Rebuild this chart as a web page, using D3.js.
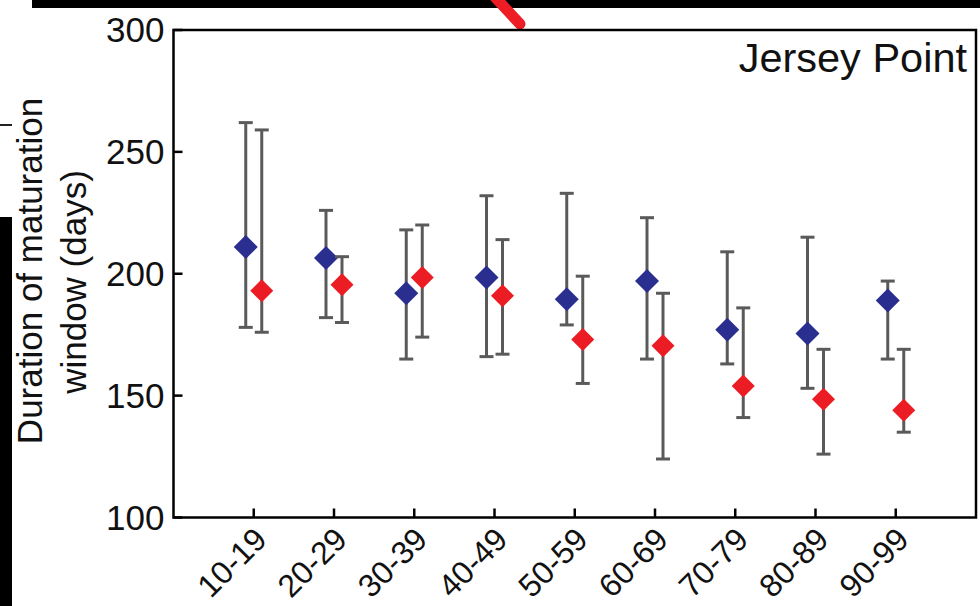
<!DOCTYPE html>
<html>
<head>
<meta charset="utf-8">
<script src="https://cdn.jsdelivr.net/npm/d3@7"></script>
<style>
  html, body { margin: 0; padding: 0; background: #fff; }
  svg { display: block; }
  text { font-family: "Liberation Sans", Arial, Helvetica, sans-serif; fill: #111; }
</style>
</head>
<body>
<svg id="chart" width="980" height="606"></svg>
<script>
// Age classes on the x axis
const categories = ["10-19", "20-29", "30-39", "40-49", "50-59", "60-69", "70-79", "80-89", "90-99"];

// Blue series: central value with lower / upper bounds (days)
const blueMid   = [211, 206.5, 192, 198.5, 189.5, 197, 177, 175.5, 189];
const blueLow   = [178, 182, 165, 166, 179, 165, 163, 153, 165];
const blueHigh  = [262, 226, 218, 232, 233, 223, 209, 215, 197];

// Red series: central value with lower / upper bounds (days)
const redMid    = [193, 195.5, 198.5, 191, 173, 170.5, 154, 148.5, 144];
const redLow    = [176, 180, 174, 167, 155, 124, 141, 126, 135];
const redHigh   = [259, 207, 220, 214, 199, 192, 186, 169, 169];

const yTicks = [100, 150, 200, 250, 300];
const panelTitle = "Jersey Point";
const yTitleLines = ["Duration of maturation", "window (days)"];

const svg = d3.select("#chart");

// Fragments of neighbouring panels along the top and left edges
svg.append("rect").attr("x", 32).attr("y", 0).attr("width", 948).attr("height", 8).attr("fill", "#000");
svg.append("rect").attr("x", 0).attr("y", 217).attr("width", 12).attr("height", 389).attr("fill", "#000");
svg.append("rect").attr("x", 0).attr("y", 124).attr("width", 12).attr("height", 2).attr("fill", "#222");
svg.append("line").attr("x1", 494).attr("y1", -4).attr("x2", 520).attr("y2", 24)
  .attr("stroke", "#ee1c24").attr("stroke-width", 11).attr("stroke-linecap", "round");

const plot = { left: 173.5, right: 976, top: 30, bottom: 517.5 };

const x = d3.scaleLinear().domain([0, categories.length + 1]).range([plot.left, plot.right]);
const y = d3.scaleLinear().domain([100, 300]).range([plot.bottom, plot.top]);

const blue = "#2a2e8f";
const red = "#ec1c24";
const barColor = "#5a5a5a";
const offset = 8;

const g = svg.append("g");

// Y axis with inward ticks
const yAxis = d3.axisLeft(y).tickValues(yTicks).tickSize(0).tickPadding(9);
const yg = g.append("g").attr("transform", `translate(${plot.left},0)`).call(yAxis);
yg.select(".domain").remove();
yg.selectAll("text").attr("font-size", 35).attr("fill", "#111").attr("dy", "0.34em");
g.append("g").selectAll("line").data(yTicks).join("line")
  .attr("x1", plot.left).attr("x2", plot.left + 9)
  .attr("y1", d => y(d)).attr("y2", d => y(d))
  .attr("stroke", "#000").attr("stroke-width", 2.5);

// X axis ticks (inward) and rotated labels
const xIdx = categories.map((c, i) => i + 1);
g.append("g").selectAll("line").data(xIdx).join("line")
  .attr("x1", d => x(d)).attr("x2", d => x(d))
  .attr("y1", plot.bottom).attr("y2", plot.bottom - 9)
  .attr("stroke", "#000").attr("stroke-width", 2.5);
g.append("g").selectAll("text").data(categories).join("text")
  .attr("transform", (d, i) => `translate(${x(i + 1) - 1},${plot.bottom + 8}) rotate(-45)`)
  .attr("text-anchor", "end")
  .attr("dy", "0.7em")
  .attr("font-size", 32)
  .text(d => d);

// Frame
g.append("rect")
  .attr("x", plot.left).attr("y", plot.top)
  .attr("width", plot.right - plot.left).attr("height", plot.bottom - plot.top)
  .attr("fill", "none").attr("stroke", "#000").attr("stroke-width", 2.5);

// Error bars and diamonds for one series
function drawSeries(mid, low, high, color, dx, size) {
  const s = g.append("g");
  const pts = categories.map((c, i) => ({ i: i + 1, mid: mid[i], low: low[i], high: high[i] }));
  s.selectAll("line.whisker").data(pts).join("line")
    .attr("class", "whisker")
    .attr("x1", d => x(d.i) + dx).attr("x2", d => x(d.i) + dx)
    .attr("y1", d => y(d.low)).attr("y2", d => y(d.high))
    .attr("stroke", barColor).attr("stroke-width", 3);
  ["low", "high"].forEach(k => {
    s.selectAll("line.cap-" + k).data(pts).join("line")
      .attr("class", "cap-" + k)
      .attr("x1", d => x(d.i) + dx - 7).attr("x2", d => x(d.i) + dx + 7)
      .attr("y1", d => y(d[k])).attr("y2", d => y(d[k]))
      .attr("stroke", barColor).attr("stroke-width", 3);
  });
  s.selectAll("path.pt").data(pts).join("path")
    .attr("class", "pt")
    .attr("d", d => {
      const cx = x(d.i) + dx, cy = y(d.mid);
      return `M${cx},${cy - size}L${cx + size},${cy}L${cx},${cy + size}L${cx - size},${cy}Z`;
    })
    .attr("fill", color);
}

drawSeries(blueMid, blueLow, blueHigh, blue, -offset, 12);
drawSeries(redMid, redLow, redHigh, red, offset, 11.5);

// Panel title
g.append("text")
  .attr("x", 967).attr("y", 72)
  .attr("text-anchor", "end")
  .attr("font-size", 41.5)
  .text(panelTitle);

// Y axis title, two lines
const yt = g.append("text")
  .attr("transform", "translate(0,271) rotate(-90)")
  .attr("text-anchor", "middle")
  .attr("font-size", 35);
yt.append("tspan").attr("x", 0).attr("y", 42).text(yTitleLines[0]);
yt.append("tspan").attr("x", -11).attr("y", 86).text(yTitleLines[1]);
</script>
</body>
</html>
